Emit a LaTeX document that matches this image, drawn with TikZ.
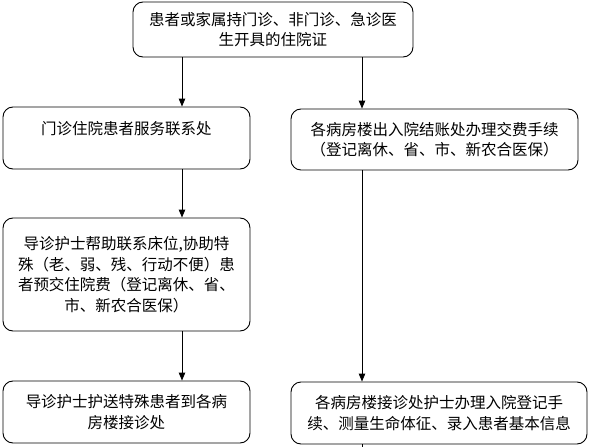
\documentclass[tikz,border=0pt]{standalone}
\usepackage{fontspec}
\newfontfamily\cjk{Noto Sans CJK SC}
\usetikzlibrary{arrows.meta}
\begin{document}
\begin{tikzpicture}[x=1pt,y=-1pt,
  box/.style={draw,line width=0.9pt,rounded corners=10pt,inner sep=0pt,align=center,
    font=\cjk\fontsize{15.5}{20.5}\selectfont},
  conn/.style={line width=0.9pt,-{Triangle[length=8pt,width=6.5pt]}},
  plain/.style={line width=0.9pt}]
\useasboundingbox (0,0) rectangle (590,447);
\node[box,minimum width=280pt,minimum height=55pt] (top) at (273,29.5) {患者或家属持门诊、非门诊、急诊医\\生开具的住院证};
\node[box,minimum width=247pt,minimum height=62pt] (l1) at (126.5,138) {门诊住院患者服务联系处\\\mbox{}};
\node[box,minimum width=287pt,minimum height=61pt] (r1) at (434.5,139.5) {各病房楼出入院结账处办理交费手续\\（登记离休、省、市、新农合医保）};
\node[box,minimum width=247pt,minimum height=113pt] (l2) at (126.5,274.5) {导诊护士帮助联系床位,协助特\\殊（老、弱、残、行动不便）患\\者预交住院费（登记离休、省、\\市、新农合医保）};
\node[box,minimum width=247pt,minimum height=62pt] (l3) at (126.5,412) {导诊护士护送特殊患者到各病\\房楼接诊处};
\node[box,minimum width=296pt,minimum height=62pt] (r2) at (439,413) {各病房楼接诊处护士办理入院登记手\\续、测量生命体征、录入患者基本信息};
\coordinate (cl) at (182,0);
\coordinate (cr) at (362,0);
\coordinate (tail) at (362,447);
\draw[conn] (top.south -| cl) -- (l1.north -| cl);
\draw[conn] (top.south -| cr) -- (r1.north -| cr);
\draw[conn] (l1.south -| cl) -- (l2.north -| cl);
\draw[conn] (l2.south -| cl) -- (l3.north -| cl);
\draw[conn] (r1.south -| cr) -- (r2.north -| cr);
\draw[plain] (r2.south -| cr) -- (tail);
\end{tikzpicture}
\end{document}
